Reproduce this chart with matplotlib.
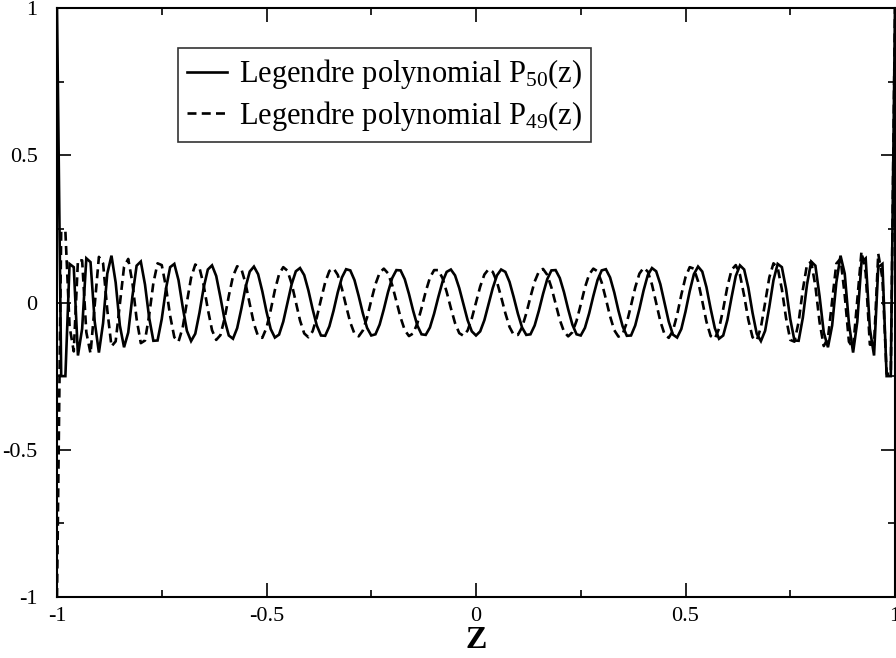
import numpy as np
import matplotlib
matplotlib.use("Agg")
import matplotlib.pyplot as plt
from matplotlib.ticker import MultipleLocator, FuncFormatter

plt.rcParams['font.family'] = ['Liberation Serif', 'DejaVu Serif']
plt.rcParams['mathtext.fontset'] = 'custom'
plt.rcParams['mathtext.rm'] = 'Liberation Serif'
plt.rcParams['mathtext.it'] = 'Liberation Serif:italic'
plt.rcParams['mathtext.bf'] = 'Liberation Serif:bold'
plt.rcParams['axes.unicode_minus'] = False

# sample grid z = -1 ... 1 step 0.01
z = np.linspace(-1.0, 1.0, 201)

p50 = [
    1.0, -0.250, -0.250, 0.131, 0.120, -0.180, -0.089, 0.150, 0.137, -0.065,
    -0.170, -0.070, 0.098, 0.159, 0.068, -0.078, -0.152, -0.102, 0.021, 0.125,
    0.139, 0.061, -0.052, -0.130, -0.129, -0.056, 0.046, 0.120, 0.131, 0.076,
    -0.015, -0.096, -0.131, -0.106, -0.035, 0.050, 0.112, 0.126, 0.090, 0.018,
    -0.059, -0.112, -0.123, -0.087, -0.021, 0.052, 0.105, 0.122, 0.096, 0.038,
    -0.031, -0.090, -0.119, -0.109, -0.065, -0.001, 0.062, 0.106, 0.117, 0.093,
    0.041, -0.022, -0.078, -0.112, -0.113, -0.081, -0.028, 0.034, 0.085, 0.113,
    0.109, 0.076, 0.022, -0.037, -0.086, -0.112, -0.108, -0.075, -0.023, 0.035,
    0.083, 0.110, 0.109, 0.079, 0.029, -0.028, -0.078, -0.108, -0.110, -0.085,
    -0.038, 0.018, 0.070, 0.104, 0.112, 0.092, 0.049, -0.006, -0.060, -0.098,
    -0.112,
    -0.098, -0.060, -0.006, 0.049, 0.092, 0.112, 0.104, 0.070, 0.018,
    -0.038, -0.085, -0.110, -0.108, -0.078, -0.028, 0.029, 0.079, 0.109, 0.110,
    0.083, 0.035, -0.023, -0.075, -0.108, -0.112, -0.086, -0.037, 0.022, 0.076,
    0.109, 0.113, 0.085, 0.034, -0.028, -0.081, -0.113, -0.112, -0.078, -0.022,
    0.041, 0.093, 0.117, 0.106, 0.062, -0.001, -0.065, -0.109, -0.119, -0.090,
    -0.031, 0.038, 0.096, 0.122, 0.105, 0.052, -0.021, -0.087, -0.123, -0.112,
    -0.059, 0.018, 0.090, 0.126, 0.112, 0.050, -0.035, -0.106, -0.131, -0.096,
    -0.015, 0.076, 0.131, 0.120, 0.046, -0.056, -0.129, -0.130, -0.052, 0.061,
    0.139, 0.125, 0.021, -0.102, -0.152, -0.078, 0.068, 0.159, 0.098, -0.070,
    -0.170, -0.065, 0.137, 0.150, -0.089, -0.180, 0.120, 0.131, -0.250, -0.250,
    1.0,
]

p49 = [
    -1.0, 0.242, 0.242, -0.082, -0.166, 0.144, 0.143, -0.101, -0.173, -0.008,
    0.155, 0.133, -0.025, -0.149, -0.132, -0.004, 0.121, 0.148, 0.067, -0.056,
    -0.138, -0.129, -0.043, 0.066, 0.133, 0.127, 0.053, -0.045, -0.118, -0.133,
    -0.085, 0.001, 0.084, 0.129, 0.118, 0.059, -0.023, -0.094, -0.127, -0.111,
    -0.054, 0.022, 0.089, 0.123, 0.114, 0.065, -0.005, -0.072, -0.115, -0.120,
    -0.086, -0.026, 0.042, 0.096, 0.120, 0.108, 0.064, 0.001, -0.061, -0.105,
    -0.118, -0.098, -0.051, 0.010, 0.068, 0.107, 0.116, 0.094, 0.047, -0.012,
    -0.068, -0.106, -0.115, -0.095, -0.051, 0.007, 0.062, 0.101, 0.115, 0.099,
    0.059, 0.004, -0.051, -0.094, -0.114, -0.105, -0.071, -0.019, 0.037, 0.084,
    0.110, 0.110, 0.083, 0.036, -0.019, -0.070, -0.104, -0.113, -0.095, -0.054,
    0.0,
    0.054, 0.095, 0.113, 0.104, 0.070, 0.019, -0.036, -0.083, -0.110,
    -0.110, -0.084, -0.037, 0.019, 0.071, 0.105, 0.114, 0.094, 0.051, -0.004,
    -0.059, -0.099, -0.115, -0.101, -0.062, -0.007, 0.051, 0.095, 0.115, 0.106,
    0.068, 0.012, -0.047, -0.094, -0.116, -0.107, -0.068, -0.010, 0.051, 0.098,
    0.118, 0.105, 0.061, -0.001, -0.064, -0.108, -0.120, -0.096, -0.042, 0.026,
    0.086, 0.120, 0.115, 0.072, 0.005, -0.065, -0.114, -0.123, -0.089, -0.022,
    0.054, 0.111, 0.127, 0.094, 0.023, -0.059, -0.118, -0.129, -0.084, -0.001,
    0.085, 0.133, 0.118, 0.045, -0.053, -0.127, -0.133, -0.066, 0.043, 0.129,
    0.138, 0.056, -0.067, -0.148, -0.121, 0.004, 0.132, 0.149, 0.025, -0.133,
    -0.155, 0.008, 0.173, 0.101, -0.143, -0.144, 0.166, 0.082, -0.242, -0.242,
    1.0,
]

labels = ["Legendre polynomial P$_{50}$(z)", "Legendre polynomial P$_{49}$(z)"]
xlabel = "Z"

fig = plt.figure(figsize=(8.96, 6.58), dpi=100)
ax = fig.add_axes([57/896, 61/658, 838/896, 589/658])

ax.plot(z, p50, color='black', lw=1.9, solid_joinstyle='miter', label=labels[0])
ax.plot(z, p49, color='black', lw=1.9, linestyle=(0, (3.4, 2.0)), label=labels[1])

ax.set_xlim(-1, 1)
ax.set_ylim(-1, 1)

fmt = FuncFormatter(lambda v, p: "%g" % v)
ax.xaxis.set_major_locator(MultipleLocator(0.5))
ax.xaxis.set_minor_locator(MultipleLocator(0.25))
ax.yaxis.set_major_locator(MultipleLocator(0.5))
ax.yaxis.set_minor_locator(MultipleLocator(0.25))
ax.xaxis.set_major_formatter(fmt)
ax.yaxis.set_major_formatter(fmt)

ax.tick_params(which='both', direction='in', top=True, right=True, width=1.2)
ax.tick_params(which='major', length=10, labelsize=16)
ax.tick_params(which='minor', length=5)
ax.tick_params(axis='y', which='major', pad=14)
ax.tick_params(axis='x', which='major', pad=7)
for s in ax.spines.values():
    s.set_linewidth(1.5)

ax.set_xlabel(xlabel, fontsize=23, fontweight='bold', labelpad=0)

leg = ax.legend(loc='upper left', bbox_to_anchor=(0.144, 0.932), borderaxespad=0,
                fontsize=22, frameon=True, fancybox=False, edgecolor='black',
                handlelength=1.3, handletextpad=0.4, labelspacing=0.25,
                borderpad=0.3)
leg.get_frame().set_linewidth(1.2)

fig.savefig("out.png", dpi=100)
